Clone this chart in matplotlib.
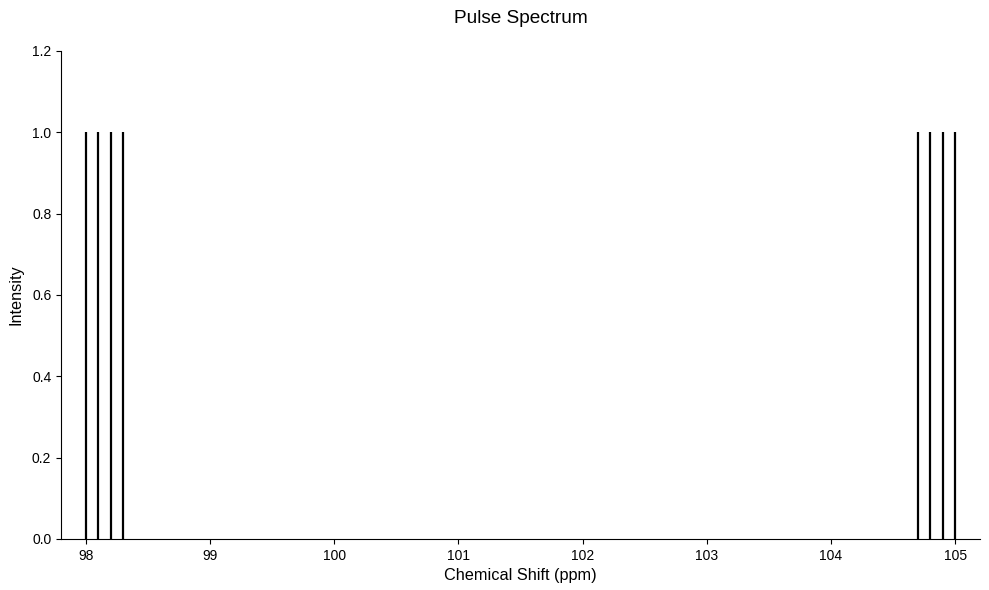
import matplotlib
matplotlib.use("Agg")
import matplotlib.pyplot as plt

shifts = [98.0, 98.1, 98.2, 98.3, 104.7, 104.8, 104.9, 105.0]
intensities = [1.0, 1.0, 1.0, 1.0, 1.0, 1.0, 1.0, 1.0]
xticks = [98, 99, 100, 101, 102, 103, 104, 105]
yticks = [0.0, 0.2, 0.4, 0.6, 0.8, 1.0, 1.2]

plt.rcParams['font.family'] = ['Liberation Sans', 'DejaVu Sans']

fig = plt.figure(figsize=(9.89, 5.9), dpi=100)
ax = fig.add_axes([61/989, 1 - 539/590, (980-61)/989, (539-51)/590])
ax.vlines(shifts, 0, intensities, colors='black', linewidth=1.6)
ax.set_xlim(97.8, 105.2)
ax.set_ylim(0, 1.2)
ax.set_xticks(xticks)
ax.set_xticklabels([str(t) for t in xticks])
ax.set_yticks(yticks)
ax.set_yticklabels([f"{t:.1f}" for t in yticks])
ax.tick_params(labelsize=10)
ax.spines['top'].set_visible(False)
ax.spines['right'].set_visible(False)
ax.set_xlabel('Chemical Shift (ppm)', fontsize=11.7)
ax.set_ylabel('Intensity', fontsize=11.7, labelpad=6)
ax.set_title('Pulse Spectrum', fontsize=13.7, pad=20)
fig.savefig('out.png', dpi=100)
